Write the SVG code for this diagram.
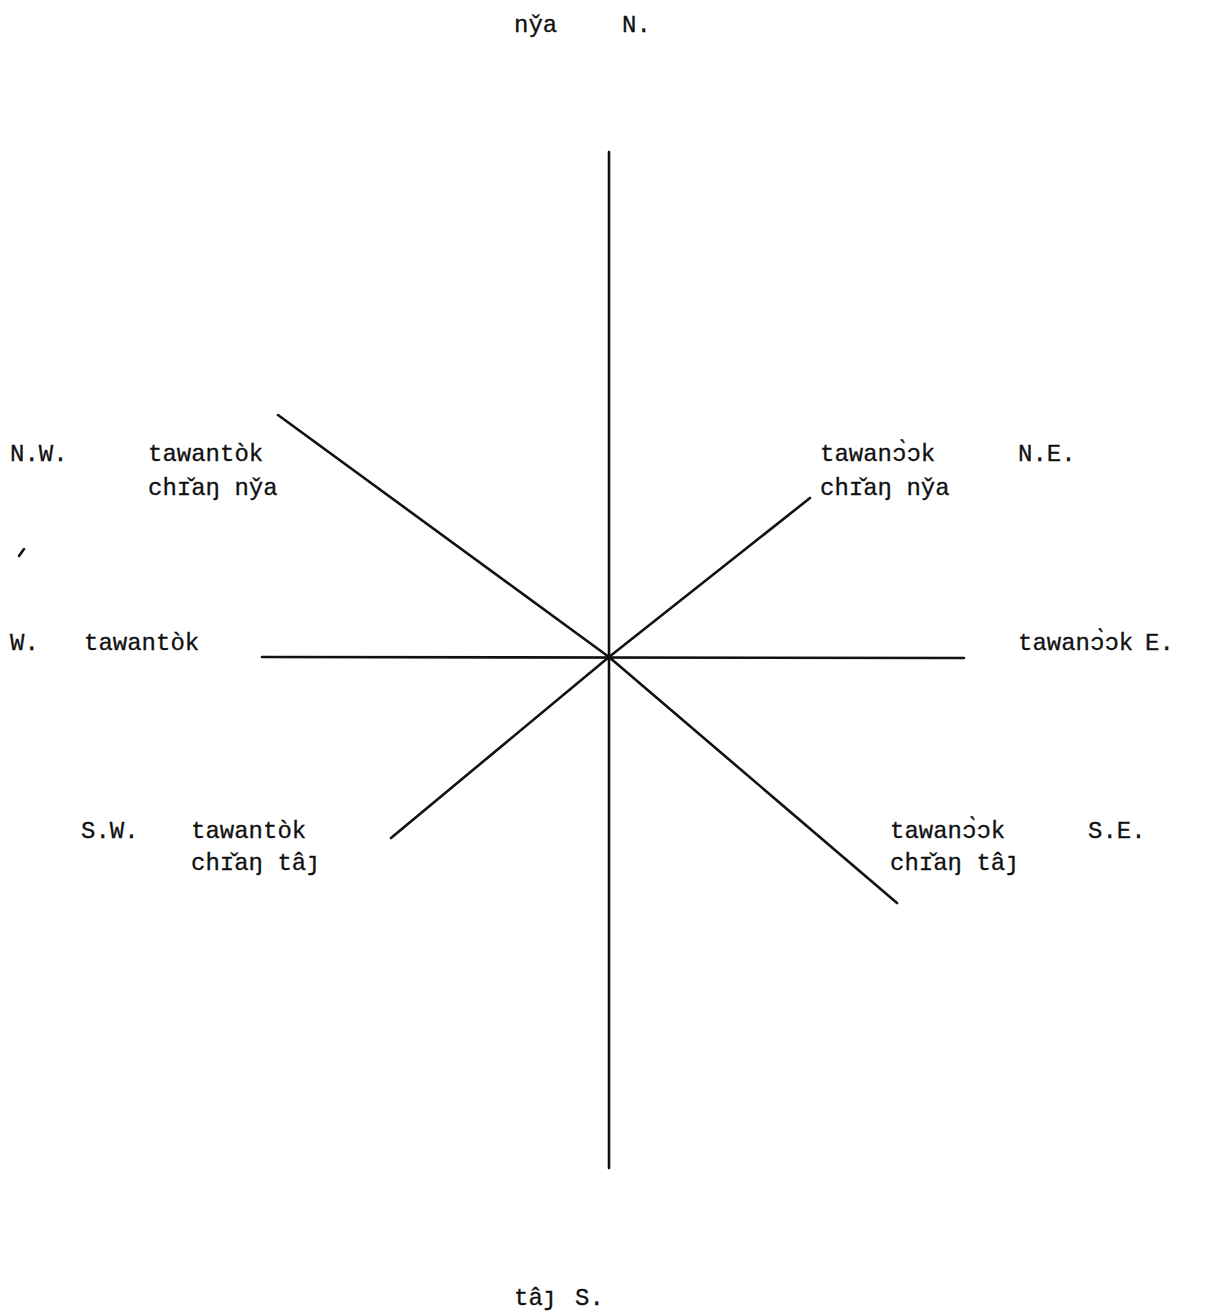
<svg xmlns="http://www.w3.org/2000/svg" width="1225" height="1313" viewBox="0 0 1225 1313">
<style>
.t{font-family:"Liberation Mono","DejaVu Sans Mono",monospace;font-size:24px;fill:#111;stroke:#111;stroke-width:0.3}
.l{stroke:#111;stroke-width:2.6;fill:none;stroke-linecap:round}
</style>
<rect width="1225" height="1313" fill="#fff"/>
<g id="connectors">
<line class="l" x1="609" y1="152" x2="609" y2="1168"/>
<line class="l" x1="262" y1="657" x2="964" y2="658"/>
<line class="l" x1="278" y1="415" x2="609" y2="657"/>
<line class="l" x1="609" y1="657" x2="810" y2="498"/>
<line class="l" x1="391" y1="838" x2="609" y2="657"/>
<line class="l" x1="609" y1="657" x2="897" y2="903"/>
<line class="l" x1="19" y1="556" x2="24" y2="549" stroke-width="2"/>
</g>
<g id="north"><text class="t" x="514" y="32">ny̌a</text><text class="t" x="622" y="32">N.</text></g>
<g id="northwest"><text class="t" x="10" y="461">N.W.</text><text class="t" x="148" y="461">tawantòk</text><text class="t" x="148" y="495">chɪ̌aŋ ny̌a</text></g>
<g id="northeast"><text class="t" x="820" y="461">tawanɔ̀ɔk</text><text class="t" x="1018" y="461">N.E.</text><text class="t" x="820" y="495">chɪ̌aŋ ny̌a</text></g>
<g id="west"><text class="t" x="10" y="650">W.</text><text class="t" x="84" y="650">tawantòk</text></g>
<g id="east"><text class="t" x="1018" y="650">tawanɔ̀ɔk</text><text class="t" x="1145" y="650">E.</text></g>
<g id="southwest"><text class="t" x="81" y="838">S.W.</text><text class="t" x="191" y="838">tawantòk</text><text class="t" x="191" y="870">chɪ̌aŋ tâȷ</text></g>
<g id="southeast"><text class="t" x="890" y="838">tawanɔ̀ɔk</text><text class="t" x="1088" y="838">S.E.</text><text class="t" x="890" y="870">chɪ̌aŋ tâȷ</text></g>
<g id="south"><text class="t" x="514" y="1305">tâȷ</text><text class="t" x="575" y="1305">S.</text></g>
</svg>
